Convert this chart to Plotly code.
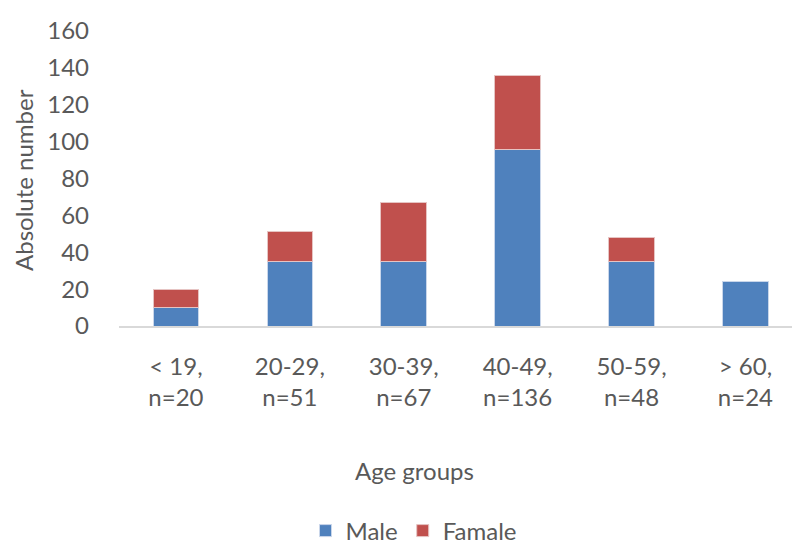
import plotly.graph_objects as go

categories = ["< 19,<br>n=20", "20-29,<br>n=51", "30-39,<br>n=67", "40-49,<br>n=136", "50-59,<br>n=48", "> 60,<br>n=24"]
male = [10, 35, 35, 96, 35, 24]
female = [10, 16, 32, 40, 13, 0]
y_ticks = [0, 20, 40, 60, 80, 100, 120, 140, 160]

W, H = 792, 547
L, R, T, B = 119, 792, 31, 326
FONT = "Lato"
GRAY = "#595959"
FS = 24

fig = go.Figure()
fig.add_trace(go.Bar(x=categories, y=male, name="Male",
                     marker=dict(color="#4F81BD", line=dict(color="#C9D6EA", width=[1 if v else 0 for v in male])), width=0.4))
fig.add_trace(go.Bar(x=categories, y=female, name="Famale",
                     marker=dict(color="#C0504D", line=dict(color="#E6C4C3", width=[1 if v else 0 for v in female])), width=0.4))

span = (R - L) / 113.9
fig.update_layout(
    width=W, height=H,
    barmode="stack",
    plot_bgcolor="white", paper_bgcolor="white",
    margin=dict(l=L, r=W - R, t=T, b=H - B, pad=0, autoexpand=False),
    font=dict(family=FONT, size=FS, color=GRAY),
    xaxis=dict(range=[-0.5, -0.5 + span], showline=True, linecolor="#D9D9D9", linewidth=2, automargin=False,
               showgrid=False, ticks="", tickfont=dict(size=FS, color=GRAY), ticklabelstandoff=18),
    yaxis=dict(range=[0, 160], tickvals=y_ticks, showgrid=False, showline=False, zeroline=False, automargin=False,
               ticks="", tickfont=dict(size=FS, color=GRAY), ticklabelstandoff=29),
    showlegend=True,
    legend=dict(orientation="h", x=(414 - L) / (R - L), xanchor="center", y=(B - 531) / (B - T), yanchor="middle",
                font=dict(size=FS, color=GRAY), itemwidth=30, traceorder="normal"),
    bargap=0.6,
)
fig.add_annotation(text="Age groups", xref="paper", yref="paper", x=(414 - L) / (R - L), y=(B - 470) / (B - T),
                   showarrow=False, font=dict(size=FS, color=GRAY), xanchor="center", yanchor="middle")
fig.add_annotation(text="Absolute number", xref="paper", yref="paper", x=(23 - L) / (R - L), y=(B - 180) / (B - T),
                   showarrow=False, textangle=-90, font=dict(size=FS, color=GRAY), xanchor="center", yanchor="middle")

fig.write_html("out.html", config={"displayModeBar": False},
               post_script="document.body.style.margin='0';document.body.style.overflow='hidden';")
